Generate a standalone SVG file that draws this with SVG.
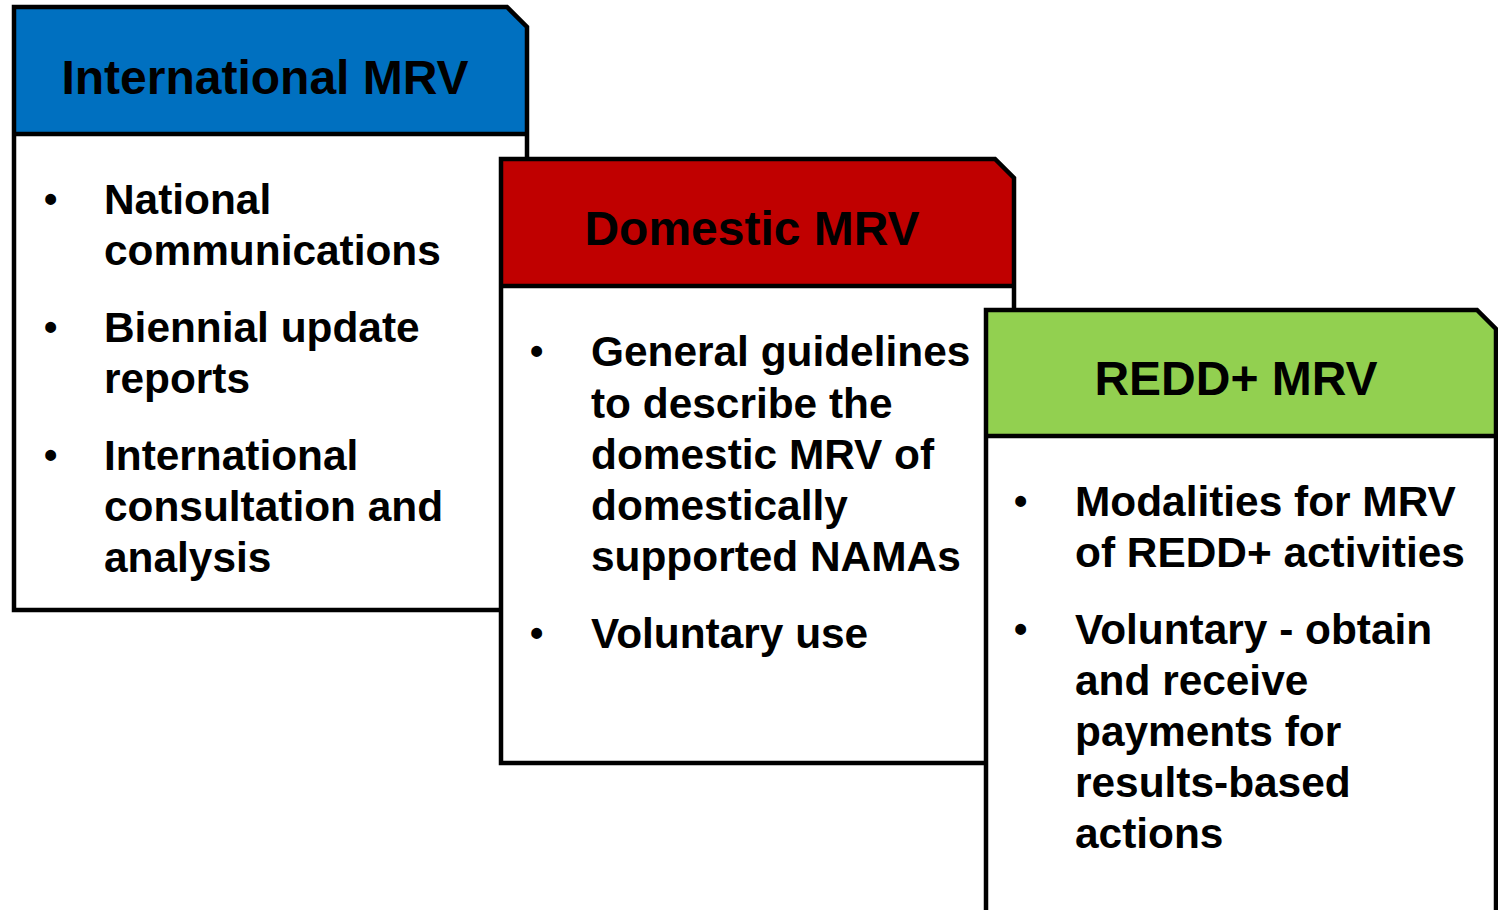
<svg xmlns="http://www.w3.org/2000/svg" width="1498" height="910" viewBox="0 0 1498 910">
<style>
.body{fill:#fff;stroke:none}
.outline{fill:none;stroke:#000;stroke-width:4.5;stroke-linejoin:miter}
.div{stroke:#000;stroke-width:4.5}
.hd{font-family:"Liberation Sans",Arial,sans-serif;font-weight:bold;font-size:48px;fill:#000;text-anchor:middle}
.tx{font-family:"Liberation Sans",Arial,sans-serif;font-weight:bold;font-size:42.4px;fill:#000}
.bl{font-family:"Liberation Sans",Arial,sans-serif;font-weight:bold;font-size:38px;fill:#000}
</style>
<rect width="1498" height="910" fill="#fff"/>
<g id="international">
<path class="body" d="M14,7 H507 L527,27 V610 H14 Z"/>
<path fill="#0070C0" d="M14,7 H507 L527,27 V134 H14 Z"/>
<path class="outline" d="M14,7 H507 L527,27 V610 H14 Z"/>
<line class="div" x1="14" y1="134" x2="527" y2="134"/>
<text class="hd" x="265" y="94">International MRV</text>
<text class="bl" x="44" y="212">•</text>
<text class="tx" x="104" y="214">National</text>
<text class="tx" x="104" y="265">communications</text>
<text class="bl" x="44" y="340">•</text>
<text class="tx" x="104" y="342">Biennial update</text>
<text class="tx" x="104" y="393">reports</text>
<text class="bl" x="44" y="468">•</text>
<text class="tx" x="104" y="470">International</text>
<text class="tx" x="104" y="521">consultation and</text>
<text class="tx" x="104" y="572">analysis</text>
</g>
<g id="domestic">
<path class="body" d="M501,159 H995 L1014,178 V763 H501 Z"/>
<path fill="#C00000" d="M501,159 H995 L1014,178 V286 H501 Z"/>
<path class="outline" d="M501,159 H995 L1014,178 V763 H501 Z"/>
<line class="div" x1="501" y1="286" x2="1014" y2="286"/>
<text class="hd" x="752" y="245">Domestic MRV</text>
<text class="bl" x="530" y="364">•</text>
<text class="tx" x="591" y="366">General guidelines</text>
<text class="tx" x="591" y="418">to describe the</text>
<text class="tx" x="591" y="469">domestic MRV of</text>
<text class="tx" x="591" y="520">domestically</text>
<text class="tx" x="591" y="571">supported NAMAs</text>
<text class="bl" x="530" y="646">•</text>
<text class="tx" x="591" y="648">Voluntary use</text>
</g>
<g id="redd">
<path class="body" d="M986,310 H1477 L1496,329 V920 H986 Z"/>
<path fill="#92D050" d="M986,310 H1477 L1496,329 V436 H986 Z"/>
<path class="outline" d="M986,310 H1477 L1496,329 V920 H986 Z"/>
<line class="div" x1="986" y1="436" x2="1496" y2="436"/>
<text class="hd" x="1236" y="395">REDD+ MRV</text>
<text class="bl" x="1014" y="514">•</text>
<text class="tx" x="1075" y="516">Modalities for MRV</text>
<text class="tx" x="1075" y="567">of REDD+ activities</text>
<text class="bl" x="1014" y="642">•</text>
<text class="tx" x="1075" y="644">Voluntary - obtain</text>
<text class="tx" x="1075" y="695">and receive</text>
<text class="tx" x="1075" y="746">payments for</text>
<text class="tx" x="1075" y="797">results-based</text>
<text class="tx" x="1075" y="848">actions</text>
</g>
<g id="connectors"></g>
</svg>
